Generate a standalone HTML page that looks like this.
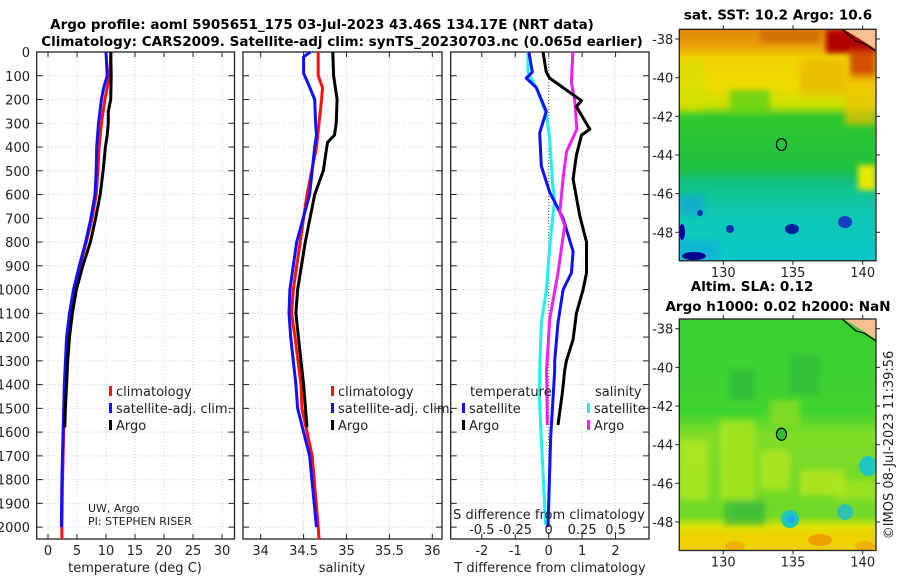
<!DOCTYPE html>
<html><head><meta charset="utf-8"><style>
html,body{margin:0;padding:0;background:#fff;}
svg{display:block;font-family:"DejaVu Sans","Liberation Sans",sans-serif;}
</style></head><body>
<svg id="fig" width="900" height="580" viewBox="0 0 900 580" xmlns="http://www.w3.org/2000/svg">
<defs>
<linearGradient id="sstg" x1="0" y1="0" x2="0" y2="1">
<stop offset="0" stop-color="#e0880a"/><stop offset="0.07" stop-color="#eaa00a"/><stop offset="0.12" stop-color="#f0d000"/>
<stop offset="0.25" stop-color="#eedc00"/><stop offset="0.33" stop-color="#c8e000"/><stop offset="0.38" stop-color="#30c830"/>
<stop offset="0.6" stop-color="#20c040"/><stop offset="0.66" stop-color="#10c080"/><stop offset="0.78" stop-color="#10c8b0"/>
<stop offset="1" stop-color="#08c8c8"/></linearGradient>
<linearGradient id="slag" x1="0" y1="0" x2="0" y2="1">
<stop offset="0" stop-color="#38d030"/><stop offset="0.4" stop-color="#40d430"/><stop offset="0.5" stop-color="#80dc28"/>
<stop offset="0.85" stop-color="#70d828"/><stop offset="0.9" stop-color="#e0e000"/><stop offset="1" stop-color="#f0c000"/></linearGradient>
<filter id="blur" x="-20%" y="-20%" width="140%" height="140%"><feGaussianBlur stdDeviation="3"/></filter>
<clipPath id="c1"><rect x="679.3" y="29.3" width="196" height="231.4"/></clipPath>
<clipPath id="c2"><rect x="679.3" y="319" width="197" height="231.7"/></clipPath>
</defs>
<g id="root"></g>
</svg>
<script>
// ---- data (depths in m) ----
const tArgoD = [0,100,200,250,300,350,400,500,600,700,800,900,1000,1100,1200,1300,1400,1500,1580];
const tArgoV = [10.8,10.9,10.8,10.4,10.4,10.2,9.9,9.5,9.0,8.2,7.3,6.0,4.9,4.2,3.7,3.4,3.2,3.0,2.9];
const tClimD = [0,100,200,300,400,500,600,700,800,900,1000,1100,1200,1400,1600,1800,2000,2050];
const tClimV = [10.9,10.6,9.8,9.2,8.8,8.6,8.3,7.6,6.6,5.5,4.5,3.8,3.3,2.9,2.7,2.5,2.4,2.4];
const tSatD = [0,100,150,200,300,400,500,600,700,800,900,1000,1100,1200,1400,1600,1800,2000];
const tSatV = [10.0,10.2,9.6,9.2,8.7,8.4,8.3,8.1,7.4,6.5,5.4,4.4,3.7,3.2,2.8,2.6,2.4,2.3];
const sArgoD = [0,100,200,300,350,380,400,500,600,800,1000,1100,1200,1400,1580];
const sArgoV = [34.84,34.85,34.89,34.88,34.86,34.78,34.77,34.73,34.63,34.52,34.43,34.41,34.44,34.50,34.54];
const sClimD = [0,100,150,200,300,400,600,800,1000,1100,1200,1400,1500,1700,2000,2050];
const sClimV = [34.67,34.67,34.72,34.71,34.68,34.65,34.54,34.46,34.38,34.36,34.40,34.47,34.48,34.60,34.67,34.68];
const sSatD = [0,20,90,130,200,300,350,400,600,800,1000,1100,1200,1400,1500,1700,2000];
const sSatV = [34.58,34.50,34.50,34.55,34.63,34.64,34.65,34.63,34.57,34.42,34.34,34.33,34.35,34.41,34.43,34.57,34.65];
const dTArgoD = [0,85,110,160,205,230,325,350,435,535,690,800,930,1000,1100,1210,1300,1340,1423,1570];
const dTArgoV = [-0.17,-0.07,0.03,0.53,0.98,0.83,1.23,0.98,0.83,0.73,0.93,1.13,1.13,1.03,0.83,0.73,0.53,0.48,0.42,0.28];
const dTSatD = [0,85,110,150,250,340,480,590,700,840,930,1000,1140,1300,1340,1620,2000];
const dTSatV = [-0.59,-0.49,-0.67,-0.37,-0.07,-0.27,-0.22,0.03,0.43,0.73,0.68,0.43,0.28,0.18,0.18,0.06,-0.02];
const dSSatD = [0,85,150,265,365,560,620,820,1000,1140,1350,1480,1760,1990];
const dSSatV = [-0.155,-0.155,-0.092,-0.017,0.008,0.03,0.045,0.008,-0.017,-0.055,-0.068,-0.068,-0.043,-0.023];
const dSArgoD = [0,130,205,325,420,535,675,730,930,1125,1350,1400,1570];
const dSArgoV = [0.18,0.17,0.195,0.21,0.133,0.107,0.083,0.12,0.07,0.008,-0.017,-0.013,-0.01];
const depthTicks = [0,100,200,300,400,500,600,700,800,900,1000,1100,1200,1300,1400,1500,1600,1700,1800,1900,2000];
const tTicks = [0,5,10,15,20,25,30];
const sTicks = [34,34.5,35,35.5,36];
const sTickLabels = ['34','34.5','35','35.5','36'];
const dtTicks = [-2,-1,0,1,2];
const dsTicks = [-0.5,-0.25,0,0.25,0.5];
const dsTickLabels = ['-0.5','-0.25','0','0.25','0.5'];
const lonTicks = [130,135,140];
const latTicks = [-38,-40,-42,-44,-46,-48];

const NS='http://www.w3.org/2000/svg';
const root=document.getElementById('root');
function el(tag,attrs,parent){const e=document.createElementNS(NS,tag);for(const k in attrs)e.setAttribute(k,attrs[k]);(parent||root).appendChild(e);return e;}
function txt(s,x,y,opt,parent){const e=el('text',Object.assign({x:x,y:y,'font-size':13,fill:'#222'},opt||{}),parent);e.textContent=s;return e;}

const Y0=52,Y1=539,DMAX=2050;
const yD=d=>Y0+(Y1-Y0)*d/DMAX;
const P=[
 {x0:36.7,x1:234.5,min:-1.95,max:32.15},
 {x0:243,x1:442,min:33.794,max:36.113},
 {x0:450.7,x1:649,min:-2.93,max:3.0}];
const xf=(p,v)=>p.x0+(v-p.min)/(p.max-p.min)*(p.x1-p.x0);

let t=txt('Argo profile: aoml 5905651_175 03-Jul-2023 43.46S 134.17E (NRT data)',322,29,{'text-anchor':'middle','font-weight':'bold','font-size':13.5,fill:'#000'});

t=txt('Climatology: CARS2009. Satellite-adj clim: synTS_20230703.nc (0.065d earlier)',342,46,{'text-anchor':'middle','font-weight':'bold','font-size':13.5,fill:'#000'});


P.forEach((p,i)=>{
  const g=el('g',{});
  
  
  el('rect',{x:p.x0,y:Y0,width:p.x1-p.x0,height:Y1-Y0,fill:'#fff'},g);
  depthTicks.forEach(d=>{const y=yD(d);
    el('line',{x1:p.x0,x2:p.x1,y1:y,y2:y,stroke:'#c8cce8','stroke-width':1,'stroke-dasharray':'1,2'},g);
    el('line',{x1:p.x0,x2:p.x0+6,y1:y,y2:y,stroke:'#222'},g);
    el('line',{x1:p.x1-6,x2:p.x1,y1:y,y2:y,stroke:'#222'},g);
  });
  const xt=i==0?tTicks:(i==1?sTicks:dtTicks);
  xt.forEach(v=>{const x=xf(p,v);
    el('line',{x1:x,x2:x,y1:Y0,y2:Y1,stroke:'#c8cce8','stroke-width':1,'stroke-dasharray':'1,2'},g);
    el('line',{x1:x,x2:x,y1:Y1-5,y2:Y1,stroke:'#222'},g);
    el('line',{x1:x,x2:x,y1:Y0,y2:Y0+5,stroke:'#222'},g);
  });
  el('rect',{x:p.x0,y:Y0,width:p.x1-p.x0,height:Y1-Y0,fill:'none',stroke:'#222','stroke-width':1.3},g);
  p.g=g;
});
depthTicks.forEach(d=>{const e=txt(String(d),30,yD(d)+5,{'text-anchor':'end'});
  });
tTicks.forEach(v=>{const e=txt(String(v),xf(P[0],v),555,{'text-anchor':'middle'});
  });
sTicks.forEach((v,k)=>{const e=txt(sTickLabels[k],xf(P[1],v),555,{'text-anchor':'middle'});
  });
dtTicks.forEach(v=>{const e=txt(String(v),xf(P[2],v),555,{'text-anchor':'middle'});
  });
const sx=v=>xf(P[2],v*4);
dsTicks.forEach((v,k)=>{const e=txt(dsTickLabels[k],sx(v),534,{'text-anchor':'middle'});
  });
t=txt('S difference from climatology',549,519,{'text-anchor':'middle'});
t=txt('temperature (deg C)',135,572,{'text-anchor':'middle'});
t=txt('salinity',342,572,{'text-anchor':'middle'});
t=txt('T difference from climatology',550,572,{'text-anchor':'middle'});

el('line',{x1:xf(P[2],0),x2:xf(P[2],0),y1:Y0,y2:Y1,stroke:'#556b2f','stroke-width':1,'stroke-dasharray':'1,2'},P[2].g);

function series(p,ds,vs,color,name,fx){
  const pts=ds.map((d,k)=>(fx?fx(vs[k]):xf(p,vs[k])).toFixed(1)+','+yD(d).toFixed(1)).join(' ');
  const e=el('polyline',{points:pts,fill:'none',stroke:color,'stroke-width':3,'stroke-linejoin':'round'},p.g);
  
  
}
series(P[0],tClimD,tClimV,'#ff1010','temperature-climatology-line');
series(P[0],tSatD,tSatV,'#1010ff','temperature-satellite-line');
series(P[0],tArgoD,tArgoV,'#000','temperature-argo-line');
series(P[1],sClimD,sClimV,'#ff1010','salinity-climatology-line');
series(P[1],sSatD,sSatV,'#1010ff','salinity-satellite-line');
series(P[1],sArgoD,sArgoV,'#000','salinity-argo-line');
series(P[2],dSSatD,dSSatV,'#20f0f0','sdiff-satellite-line',sx);
series(P[2],dTSatD,dTSatV,'#1010ff','tdiff-satellite-line');
series(P[2],dSArgoD,dSArgoV,'#f020f0','sdiff-argo-line',sx);
series(P[2],dTArgoD,dTArgoV,'#000','tdiff-argo-line');

function legend(x,y,color,label,name){
  const g=el('g',{});
  
  
  el('rect',{x:x,y:y-10,width:3,height:10,fill:color},g);
  txt(label,x+7,y,{},g);
}
legend(109,396,'#ff1010','climatology','legend-climatology');
legend(109,413,'#1010ff','satellite-adj. clim.','legend-satellite-adj');
legend(109,430,'#000','Argo','legend-argo');
legend(331,396,'#ff1010','climatology','legend-climatology-2');
legend(331,413,'#1010ff','satellite-adj. clim.','legend-satellite-adj-2');
legend(331,430,'#000','Argo','legend-argo-2');
t=txt('temperature',470,396,{});
legend(462,413,'#1010ff','satellite','legend-t-satellite');
legend(462,430,'#000','Argo','legend-t-argo');
t=txt('salinity',595,396,{});
legend(587,413,'#20f0f0','satellite','legend-s-satellite');
legend(587,430,'#f020f0','Argo','legend-s-argo');
t=txt('UW, Argo',88,512,{'font-size':11});
t=txt('PI: STEPHEN RISER',88,525,{'font-size':11});

// ---- maps (patch/spot coords absolute pixels) ----
function map(top,title1,title2,fill,patches,spots,name){
  const g=el('g',{});
  
  
  const x0=679.3,x1=876,y0=top,y1=top+231.5;
  const lx=lon=>723.3+(lon-130)*13.94;
  const ly=lat=>y0+9.7+(-38-lat)*19.33;
  const inner=el('g',{'clip-path':top<100?'url(#c1)':'url(#c2)'},g);
  el('rect',{x:x0,y:y0,width:x1-x0,height:y1-y0,fill:fill},inner);
  const soft=el('g',{filter:'url(#blur)'},inner);
  patches.forEach(p=>el('rect',{x:p[0],y:p[1],width:p[2],height:p[3],fill:p[4],opacity:p[5]||1},soft));
  spots.forEach(s=>el('ellipse',{cx:s[0],cy:s[1],rx:s[2],ry:s[3],fill:s[4]},inner));
  el('path',{d:`M${x1-32},${y0} L${x1},${y0} L${x1},${y0+20} Z`,fill:'#f8c090'},inner);
  el('path',{d:`M${x1-34},${y0} L${x1-20},${y0+12} L${x1-12},${y0+14} L${x1},${y0+22}`,fill:'none',stroke:'#000','stroke-width':1.2},inner);
  const c=el('ellipse',{cx:lx(134.17),cy:ly(-43.46),rx:5,ry:6,fill:top<100?'none':'#30c030',stroke:'#000','stroke-width':1.2},g);
  
  
  el('rect',{x:x0,y:y0,width:x1-x0,height:y1-y0,fill:'none',stroke:'#222','stroke-width':1.3},g);
  lonTicks.forEach(v=>{const x=lx(v);
    el('line',{x1:x,x2:x,y1:y1,y2:y1+4,stroke:'#222'},g);
    el('line',{x1:x,x2:x,y1:y0-4,y2:y0,stroke:'#222'},g);
    txt(String(v),x,y1+16,{'text-anchor':'middle'},g);});
  latTicks.forEach(v=>{const y=ly(v);
    el('line',{x1:x0-4,x2:x0,y1:y,y2:y,stroke:'#222'},g);
    el('line',{x1:x1,x2:x1+4,y1:y,y2:y,stroke:'#222'},g);
    txt(String(v),x0-6,y+5,{'text-anchor':'end'},g);});
  if(title2){txt(title1,752,y0-28,{'text-anchor':'middle','font-weight':'bold','font-size':13.5,fill:'#000'},g);
    txt(title2,778,y0-8,{'text-anchor':'middle','font-weight':'bold','font-size':13.5,fill:'#000'},g);}
  else txt(title1,778,y0-10,{'text-anchor':'middle','font-weight':'bold','font-size':13.5,fill:'#000'},g);
}
map(29.3,'sat. SST: 10.2 Argo: 10.6',null,'url(#sstg)',
 [[760,29,60,14,'#d06800',0.8],[826,29,50,24,'#b00000'],[850,50,26,30,'#d04000',0.9],[800,60,45,35,'#e8b000',0.6],
  [845,75,31,50,'#f0c000',0.7],[858,165,18,25,'#e8e800'],[679,60,25,50,'#d0e000',0.6],[730,90,40,25,'#50d020',0.7],
  [679,195,25,20,'#10a0e0',0.6],[679,240,40,20,'#10a8e8',0.5]],
 [[682,232,3,8,'#0000a0'],[694,256,12,4,'#000090'],[792,229,7,5,'#0020a0'],[845,222,7,6,'#1040c0'],[730,229,4,4,'#1030b0'],[700,213,3,3,'#0030b0']],
 'sst-map');
map(319,'Altim. SLA: 0.12','Argo h1000: 0.02 h2000: NaN','url(#slag)',
 [[679,440,30,60,'#b0e820',0.8],[720,420,35,80,'#b0e820',0.7],[760,450,30,40,'#b8e820',0.7],[800,470,45,25,'#c0e820',0.7],
  [835,480,41,20,'#b0e820',0.6],[730,370,25,30,'#28b040',0.6],[790,355,30,40,'#28b040',0.5],[725,500,40,25,'#28b040',0.6],
  [679,535,197,16,'#f0d000',0.9],[770,400,30,25,'#a0e020',0.6]],
 [[790,519,9,9,'#20c8b8'],[791,519,4,4,'#20a8f0'],[845,512,8,8,'#30c0b0'],[868,466,9,10,'#20c8c0'],
  [820,540,12,6,'#f0a000'],[735,546,10,5,'#f0b000'],[865,546,10,5,'#f0b000']],
 'sla-map');
t=txt('©IMOS 08-Jul-2023 11:39:56',0,0,{'text-anchor':'middle',transform:'translate(893,445) rotate(-90)'});

</script>
</body></html>
